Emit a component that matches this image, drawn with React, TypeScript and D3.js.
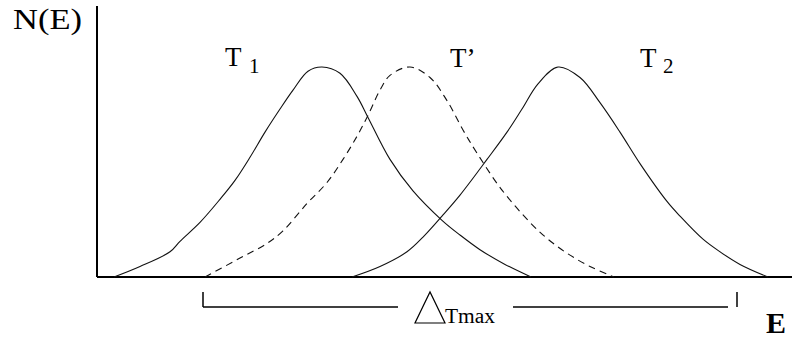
import React from 'react';
import * as d3 from 'd3';

// energy axis values (arbitrary units) and normalised occupation N(E)
const t1E = [0.34, 0.86, 1.46, 1.66, 2.06, 2.46, 2.76, 3.06, 3.36, 3.66, 3.92, 4.22, 4.5, 4.86, 5.2, 5.42, 5.86, 6.32, 6.9, 7.26, 7.66, 8.16, 8.68];
const t1N = [0, 0.05, 0.12, 0.17, 0.26, 0.37, 0.46, 0.57, 0.69, 0.8, 0.89, 0.98, 1, 0.97, 0.86, 0.76, 0.56, 0.41, 0.27, 0.2, 0.13, 0.06, 0];

const tpE = [2.16, 2.86, 3.4, 3.72, 4.2, 4.6, 4.92, 5.2, 5.42, 5.66, 5.86, 6.26, 6.66, 7.0, 7.32, 7.6, 8.08, 8.66, 9.02, 9.42, 9.86, 10.34];
const tpN = [0, 0.09, 0.16, 0.22, 0.35, 0.45, 0.56, 0.67, 0.77, 0.89, 0.96, 1, 0.95, 0.84, 0.7, 0.59, 0.42, 0.26, 0.18, 0.11, 0.05, 0];

const t2E = [5.1, 5.66, 6.2, 6.52, 6.9, 7.26, 7.8, 8.2, 8.5, 8.82, 9.22, 9.66, 10.06, 10.46, 10.86, 11.4, 11.66, 12.12, 12.46, 12.86, 13.42];
const t2N = [0, 0.05, 0.12, 0.19, 0.29, 0.39, 0.56, 0.69, 0.8, 0.92, 1, 0.95, 0.83, 0.69, 0.54, 0.36, 0.29, 0.18, 0.12, 0.06, 0];

// ΔTmax bracket spans from the start of T' to near the end of T2
const bracketE = [2.12, 12.8];

const W = 792;
const H = 340;
const serif = '"Liberation Serif", "Times New Roman", serif';

export default function App() {
  const x = d3.scaleLinear().domain([0, 13.9]).range([97, 792]);
  const y = d3.scaleLinear().domain([0, 1]).range([277, 67]);

  const line = d3
    .line<[number, number]>()
    .x((d) => x(d[0]))
    .y((d) => y(d[1]))
    .curve(d3.curveCatmullRom.alpha(0.5));

  const zip = (a: number[], b: number[]) => a.map((v, i) => [v, b[i]] as [number, number]);

  const bx0 = x(bracketE[0]);
  const bx1 = x(bracketE[1]);
  const by = 307;

  return (
    <svg
      width={W}
      height={H}
      style={{ position: 'absolute', left: 0, top: 0, background: '#fff' }}
      fontFamily={serif}
    >
      {/* axes */}
      <line x1={x(0)} y1={6} x2={x(0)} y2={y(0)} stroke="#000" strokeWidth={2} />
      <line x1={x(0)} y1={y(0)} x2={W} y2={y(0)} stroke="#000" strokeWidth={2} />

      {/* curves */}
      <path d={line(zip(t1E, t1N)) ?? ''} fill="none" stroke="#111" strokeWidth={1.1} />
      <path d={line(zip(tpE, tpN)) ?? ''} fill="none" stroke="#111" strokeWidth={1.1} strokeDasharray="7,5" />
      <path d={line(zip(t2E, t2N)) ?? ''} fill="none" stroke="#111" strokeWidth={1.1} />

      {/* axis labels */}
      <text x={13} y={29} fontSize={29} textLength={69} lengthAdjust="spacingAndGlyphs">N(E)</text>
      <text x={766} y={333} fontSize={30} fontWeight="bold">E</text>

      {/* curve labels */}
      <text x={225} y={66} fontSize={27}>T</text>
      <text x={249} y={73} fontSize={21}>1</text>
      <text x={450} y={67} fontSize={27}>T’</text>
      <text x={640} y={67} fontSize={27}>T</text>
      <text x={663} y={73} fontSize={21}>2</text>

      {/* ΔTmax bracket */}
      <g stroke="#000" strokeWidth={1.5} fill="none">
        <line x1={bx0} y1={292} x2={bx0} y2={by} />
        <line x1={bx0} y1={by} x2={398} y2={by} />
        <line x1={513} y1={by} x2={bx1 - 9} y2={by} />
        <line x1={bx1} y1={292} x2={bx1} y2={by} />
      </g>
      <path d="M415,323L445,323L430,292Z" fill="none" stroke="#000" strokeWidth={1.2} />
      <text x={445} y={323} fontSize={20} textLength={50} lengthAdjust="spacingAndGlyphs">Tmax</text>
    </svg>
  );
}
